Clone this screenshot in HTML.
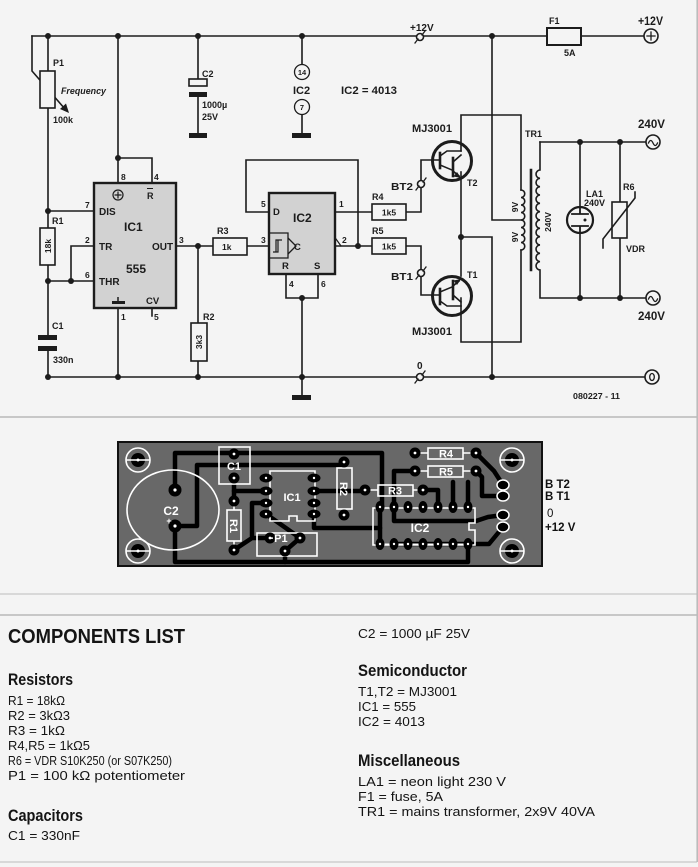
<!DOCTYPE html>
<html><head><meta charset="utf-8"><style>
html,body{margin:0;padding:0;background:#f4f4f4;}
svg{display:block;}
</style></head><body>
<svg width="698" height="867" viewBox="0 0 698 867" xmlns="http://www.w3.org/2000/svg" font-family="'Liberation Sans', Arial, sans-serif">
<rect width="698" height="867" fill="#f4f4f4"/>

<!-- ============ SCHEMATIC ============ -->
<g stroke="#1c1c1c" stroke-width="1.6" fill="none" stroke-linecap="square">
  <!-- rails -->
  <path d="M32,36 H547 M581,36 H644"/>
  <path d="M48,377 H645"/>
  <!-- P1 wiper -->
  <path d="M32,36 V71 L65,109"/>
  <!-- left column -->
  <path d="M48,36 V71 M48,108 V228 M48,265 V335 M48,351 V377"/>
  <rect x="40" y="71" width="15" height="37" fill="#f4f4f4"/>
  <rect x="40" y="228" width="15" height="37" fill="#f4f4f4"/>
  <path d="M48,211 H94 M71,246 H94 M71,246 V281 M48,281 H94"/>
  <!-- IC1 supply -->
  <path d="M118,36 V183 M118,158 H152 V183 M118,308 V377 M152,308 V316"/>
  <!-- OUT -->
  <path d="M176,246 H213 M247,246 H269 M198,246 V323 M198,361 V377"/>
  <rect x="213" y="238" width="34" height="17" fill="#f4f4f4"/>
  <rect x="191" y="323" width="16" height="38" fill="#f4f4f4"/>
  <!-- C2 -->
  <path d="M198,36 V79 M198,97 V133"/>
  <rect x="189" y="79" width="18" height="7" fill="#f4f4f4"/>
  <!-- IC2 supply -->
  <path d="M302,36 V64.5 M302,114.5 V133"/>
  <circle cx="302" cy="72" r="7.5" fill="#f4f4f4" stroke-width="1.3"/>
  <circle cx="302" cy="107" r="7.5" fill="#f4f4f4" stroke-width="1.3"/>
  <!-- IC2 wiring -->
  <path d="M269,212 H246 V160 H358 V246"/>
  <path d="M335,212 H372 M406,212 H421 V160 H440"/>
  <path d="M335,246 H372 M406,246 H421 V295 H440"/>
  <rect x="372" y="204" width="34" height="16" fill="#f4f4f4"/>
  <rect x="372" y="238" width="34" height="16" fill="#f4f4f4"/>
  <path d="M286,274 V298 H318 V274 M302,298 V395"/>
  <path d="M336,239 L341,246" stroke-width="1.2"/>
  <!-- transistors wiring -->
  <path d="M461,151 V115 H521 V190"/>
  <path d="M461,172 V276"/>
  <path d="M461,298 V342 H521 V250"/>
  <path d="M461,237 H492 V377"/>
  <path d="M492,36 V220 H521"/>
  <!-- transformer -->
  <path d="M521,190 a3.75,3.75 0 0 1 0,7.5 a3.75,3.75 0 0 1 0,7.5 a3.75,3.75 0 0 1 0,7.5 a3.75,3.75 0 0 1 0,7.5 a3.75,3.75 0 0 1 0,7.5 a3.75,3.75 0 0 1 0,7.5 a3.75,3.75 0 0 1 0,7.5 a3.75,3.75 0 0 1 0,7.5"/>
  <path d="M531,170 V270" stroke-width="2.6"/>
  <path d="M540,142 V170 a4.17,4.17 0 0 0 0,8.33 a4.17,4.17 0 0 0 0,8.33 a4.17,4.17 0 0 0 0,8.33 a4.17,4.17 0 0 0 0,8.33 a4.17,4.17 0 0 0 0,8.33 a4.17,4.17 0 0 0 0,8.33 a4.17,4.17 0 0 0 0,8.33 a4.17,4.17 0 0 0 0,8.33 a4.17,4.17 0 0 0 0,8.33 a4.17,4.17 0 0 0 0,8.33 a4.17,4.17 0 0 0 0,8.33 a4.17,4.17 0 0 0 0,8.33 V298 H646"/>
  <path d="M540,142 H646"/>
  <!-- LA1 -->
  <path d="M580,142 V207 M580,233 V298"/>
  <circle cx="580" cy="220" r="13" stroke-width="2.2" fill="#f4f4f4"/>
  <path d="M580,207 V214 M572,214 H588 M572,226 H588 M580,226 V233" stroke-width="1.8"/>
  <!-- R6 VDR -->
  <path d="M620,142 V202 M620,238 V298"/>
  <rect x="612" y="202" width="15" height="36" fill="#f4f4f4"/>
  <path d="M603,248 V239 L635,198 V192"/>
  <!-- fuse -->
  <rect x="547" y="28" width="34" height="17" fill="#f4f4f4" stroke-width="2"/>
  <!-- big terminals -->
  <circle cx="651" cy="36" r="7" fill="#f4f4f4"/>
  <path d="M647,36 H655 M651,32 V40" stroke-width="1.3"/>
  <circle cx="653" cy="142" r="7" fill="#f4f4f4"/>
  <path d="M648.5,143 q2.2,-5 4.5,0 t4.5,0" stroke-width="1.3"/>
  <circle cx="653" cy="298" r="7" fill="#f4f4f4"/>
  <path d="M648.5,299 q2.2,-5 4.5,0 t4.5,0" stroke-width="1.3"/>
  <circle cx="652" cy="377" r="7" fill="#f4f4f4"/>
  <ellipse cx="652" cy="377" rx="2.3" ry="3.5" stroke-width="1.3"/>
  <!-- small terminals -->
  <circle cx="420" cy="37" r="3.5" fill="#f4f4f4"/>
  <path d="M415,43 L418,39 M422,35 L425,31" stroke-width="1.3"/>
  <circle cx="421" cy="184" r="3.5" fill="#f4f4f4"/>
  <path d="M416,190 L419,186 M423,182 L426,178" stroke-width="1.3"/>
  <circle cx="421" cy="273" r="3.5" fill="#f4f4f4"/>
  <path d="M416,279 L419,275 M423,271 L426,267" stroke-width="1.3"/>
  <circle cx="420" cy="377" r="3.5" fill="#f4f4f4"/>
  <path d="M415,383 L418,379 M422,375 L425,371" stroke-width="1.3"/>
  <!-- transistor T2 -->
  <circle cx="452" cy="161" r="19.5" stroke-width="3"/>
  <path d="M440,153 V168" stroke-width="2.6"/>
  <path d="M440,156 L447,151 H461 M440,165 L452,170"/>
  <path d="M453,158 V176" stroke-width="2.6"/>
  <path d="M453,162 L461,155 M453,171 L459,176"/>
  <!-- transistor T1 -->
  <circle cx="452" cy="296" r="19.5" stroke-width="3"/>
  <path d="M440,289 V304" stroke-width="2.6"/>
  <path d="M440,301 L447,306 H461 M440,292 L452,287"/>
  <path d="M453,281 V299" stroke-width="2.6"/>
  <path d="M453,295 L461,302 M453,286 L459,281"/>
  <!-- IC1 ⊕ -->
  <circle cx="118" cy="195" r="5" stroke-width="1.2"/>
  <path d="M114.5,195 H121.5 M118,191.5 V198.5" stroke-width="1.2"/>
  <!-- schmitt -->
  <path d="M269,233 H288 V258 H269" stroke-width="1.3"/>
  <path d="M288,238 L296,246 L288,254" stroke-width="1.3"/>
  <path d="M273,252 H278 V240 M276,252 V240 H282" stroke-width="1.2"/>
  <path d="M152,196 v0" />
</g>
<!-- ICs -->
<rect x="94" y="183" width="82" height="125" fill="#d2d2d2" stroke="#1c1c1c" stroke-width="2.4"/>
<rect x="269" y="193" width="66" height="81" fill="#d2d2d2" stroke="#1c1c1c" stroke-width="2.4"/>
<g stroke="#1c1c1c" fill="none">
  <circle cx="118" cy="195" r="5" stroke-width="1.2"/>
  <path d="M114.5,195 H121.5 M118,191.5 V198.5" stroke-width="1.2"/>
  <path d="M269,233 H288 V258 H269" stroke-width="1.3"/>
  <path d="M288,238 L296,246 L288,254" stroke-width="1.3"/>
  <path d="M273,252 H278 V240 M276,252 V240 H282" stroke-width="1.2"/>
  <path d="M118,297 V301" stroke-width="1.5"/>
</g>
<g fill="#1c1c1c">
  <rect x="112" y="301" width="13" height="3"/>
  <rect x="38" y="335" width="19" height="5"/>
  <rect x="38" y="346" width="19" height="5"/>
  <rect x="189" y="92" width="18" height="5"/>
  <rect x="189" y="133" width="18" height="5"/>
  <rect x="292" y="133" width="19" height="5"/>
  <rect x="292" y="395" width="19" height="5"/>
  <polygon points="69,113 60,109 66,103.5"/>
  <polygon points="461,178 453.5,176.5 457,172"/>
  <polygon points="461,279 457,285 453.5,280.5"/>
  <circle cx="48" cy="36" r="3"/><circle cx="118" cy="36" r="3"/><circle cx="198" cy="36" r="3"/>
  <circle cx="302" cy="36" r="3"/><circle cx="492" cy="36" r="3"/>
  <circle cx="48" cy="211" r="3"/><circle cx="48" cy="281" r="3"/><circle cx="71" cy="281" r="3"/>
  <circle cx="118" cy="158" r="3"/><circle cx="198" cy="246" r="3"/><circle cx="358" cy="246" r="3"/>
  <circle cx="302" cy="298" r="3"/><circle cx="461" cy="237" r="3"/>
  <circle cx="580" cy="142" r="3"/><circle cx="620" cy="142" r="3"/>
  <circle cx="580" cy="298" r="3"/><circle cx="620" cy="298" r="3"/>
  <circle cx="48" cy="377" r="3"/><circle cx="118" cy="377" r="3"/><circle cx="198" cy="377" r="3"/>
  <circle cx="302" cy="377" r="3"/><circle cx="492" cy="377" r="3"/>
  <circle cx="585" cy="220" r="1.5"/>
</g>

<!-- schematic text -->
<g fill="#1c1c1c" font-weight="bold" font-size="9">
  <text x="53" y="66">P1</text>
  <text x="61" y="94" font-style="italic" textLength="45" lengthAdjust="spacingAndGlyphs">Frequency</text>
  <text x="53" y="123">100k</text>
  <text x="52" y="224">R1</text>
  <text x="52" y="329">C1</text>
  <text x="53" y="363">330n</text>
  <text x="202" y="77">C2</text>
  <text x="202" y="108">1000µ</text>
  <text x="202" y="120">25V</text>
  <text x="121" y="180" font-size="8.5">8</text>
  <text x="154" y="180" font-size="8.5">4</text>
  <text x="147" y="199" font-size="9">R</text>
  <path d="M147,188.5 H153" stroke="#1c1c1c" stroke-width="1"/>
  <text x="85" y="208" font-size="8.5">7</text>
  <text x="85" y="243" font-size="8.5">2</text>
  <text x="85" y="278" font-size="8.5">6</text>
  <text x="99" y="215" font-size="10">DIS</text>
  <text x="99" y="250" font-size="10">TR</text>
  <text x="99" y="285" font-size="10">THR</text>
  <text x="124" y="231" font-size="12">IC1</text>
  <text x="126" y="273" font-size="12">555</text>
  <text x="152" y="250" font-size="10">OUT</text>
  <text x="179" y="243" font-size="8.5">3</text>
  <text x="146" y="304" font-size="9.5">CV</text>
  <text x="121" y="320" font-size="8.5">1</text>
  <text x="154" y="320" font-size="8.5">5</text>
  <text x="217" y="234">R3</text>
  <text x="222" y="250" font-size="8.5">1k</text>
  <text x="203" y="320">R2</text>
  <text transform="translate(202,342) rotate(-90)" text-anchor="middle" font-size="8.5">3k3</text>
  <text transform="translate(51,246) rotate(-90)" text-anchor="middle" font-size="8.5">18k</text>
  <text x="302" y="75" text-anchor="middle" font-size="7.5">14</text>
  <text x="302" y="110" text-anchor="middle" font-size="7.5">7</text>
  <text x="293" y="94" font-size="11">IC2</text>
  <text x="341" y="94" font-size="11" textLength="56" lengthAdjust="spacingAndGlyphs">IC2 = 4013</text>
  <text x="410" y="31" font-size="10">+12V</text>
  <text x="261" y="207" font-size="8.5">5</text>
  <text x="273" y="215" font-size="9.5">D</text>
  <text x="293" y="222" font-size="12">IC2</text>
  <text x="261" y="243" font-size="8.5">3</text>
  <text x="294" y="250" font-size="9.5">C</text>
  <text x="282" y="269" font-size="9.5">R</text>
  <text x="314" y="269" font-size="9.5">S</text>
  <text x="289" y="287" font-size="8.5">4</text>
  <text x="321" y="287" font-size="8.5">6</text>
  <text x="339" y="207" font-size="8.5">1</text>
  <text x="342" y="243" font-size="8.5">2</text>
  <text x="372" y="200">R4</text>
  <text x="372" y="234">R5</text>
  <text x="389" y="215.5" text-anchor="middle" font-size="8.5">1k5</text>
  <text x="389" y="249.5" text-anchor="middle" font-size="8.5">1k5</text>
  <text x="391" y="190" font-size="10" textLength="22" lengthAdjust="spacingAndGlyphs">BT2</text>
  <text x="391" y="280" font-size="10" textLength="22" lengthAdjust="spacingAndGlyphs">BT1</text>
  <text x="412" y="132" font-size="11" textLength="40" lengthAdjust="spacingAndGlyphs">MJ3001</text>
  <text x="412" y="335" font-size="11" textLength="40" lengthAdjust="spacingAndGlyphs">MJ3001</text>
  <text x="467" y="186" font-size="9">T2</text>
  <text x="467" y="278" font-size="9">T1</text>
  <text x="417" y="369" font-size="10">0</text>
  <text x="549" y="24">F1</text>
  <text x="564" y="56">5A</text>
  <text x="638" y="25" font-size="11.5" textLength="25" lengthAdjust="spacingAndGlyphs">+12V</text>
  <text x="638" y="128" font-size="12" textLength="27" lengthAdjust="spacingAndGlyphs">240V</text>
  <text x="638" y="320" font-size="12" textLength="27" lengthAdjust="spacingAndGlyphs">240V</text>
  <text x="525" y="137">TR1</text>
  <text transform="translate(518,207) rotate(-90)" text-anchor="middle" font-size="8.5">9V</text>
  <text transform="translate(518,237) rotate(-90)" text-anchor="middle" font-size="8.5">9V</text>
  <text transform="translate(551,222) rotate(-90)" text-anchor="middle" font-size="8.5">240V</text>
  <text x="586" y="197">LA1</text>
  <text x="584" y="206">240V</text>
  <text x="623" y="190">R6</text>
  <text x="626" y="252">VDR</text>
  <text x="573" y="399" font-size="8.5" textLength="47" lengthAdjust="spacingAndGlyphs">080227 - 11</text>
</g>

<!-- separators -->
<g stroke="#b8b8b8" stroke-width="1.5">
  <path d="M0,417 H697"/>
  <path d="M0,594 H697" stroke="#cfcfcf"/>
  <path d="M0,615 H697"/>
  <path d="M0,862 H697" stroke="#cfcfcf"/>
  <path d="M697.2,0 V862"/>
</g>

<!-- ============ PCB ============ -->
<rect x="118" y="442" width="424" height="124" fill="#686868" stroke="#111" stroke-width="2"/>
<g stroke="#000" stroke-width="4.5" fill="none" stroke-linejoin="round" stroke-linecap="round">
  <path d="M175,490 V453 H382 V507"/>
  <path d="M175,526 H197 V465 H344"/>
  <path d="M175,526 V562 H468 V544"/>
  <path d="M234,478 V501"/>
  <path d="M234,491 H266"/>
  <path d="M314,491 H365"/>
  <path d="M314,514 V528 H380"/>
  <path d="M234,550 L252,538 V503 H266 M252,538 H270"/>
  <path d="M266,514 L300,538 L285,551 V562"/>
  <path d="M423,490 H438 V507"/>
  <path d="M415,471 H394 V507"/>
  <path d="M453,507 V482 M468,507 V482"/>
  <path d="M476,453 L494,471 L503,485"/>
  <path d="M476,471 L482,477 V496 H503"/>
  <path d="M503,515 L488,517 L476,521 H394 V507"/>
  <path d="M503,527 L489,544 H468"/>
  <path d="M380,507 V544"/>
  <path d="M394,544 H468"/>
</g>
<!-- silkscreen -->
<g stroke="#fff" stroke-width="1.6" fill="none">
  <ellipse cx="173" cy="510" rx="46" ry="40"/>
  <rect x="219" y="447" width="31" height="37"/>
  <rect x="227" y="510" width="14" height="31"/>
  <path d="M234,501 V510 M234,541 V550"/>
  <path d="M270,471 H315 V521 H297 V516 H289 V521 H270 Z"/>
  <rect x="257" y="533" width="60" height="23"/>
  <rect x="337" y="468" width="15" height="41"/>
  <path d="M344,462 V468 M344,509 V515"/>
  <rect x="378" y="485" width="35" height="11"/>
  <path d="M365,490 H378 M413,490 H423"/>
  <rect x="428" y="448" width="35" height="11"/>
  <path d="M415,453 H428 M463,453 H476"/>
  <rect x="428" y="466" width="35" height="11"/>
  <path d="M415,471 H428 M463,471 H476"/>
  <path d="M373,508 H475 V523 H469 V530 H475 V545 H373 Z"/>
  <path d="M380,508 H468 M380,544 H468" stroke-width="1"/>
</g>
<!-- mounting holes -->
<g>
  <g transform="translate(138,460)"><circle r="12" fill="none" stroke="#fff" stroke-width="1.6"/><circle r="7" fill="#000"/><path d="M-12,0 H12" stroke="#fff" stroke-width="1.4"/></g>
  <g transform="translate(138,551)"><circle r="12" fill="none" stroke="#fff" stroke-width="1.6"/><circle r="7" fill="#000"/><path d="M-12,0 H12" stroke="#fff" stroke-width="1.4"/></g>
  <g transform="translate(512,460)"><circle r="12" fill="none" stroke="#fff" stroke-width="1.6"/><circle r="7" fill="#000"/><path d="M-12,0 H12" stroke="#fff" stroke-width="1.4"/></g>
  <g transform="translate(512,551)"><circle r="12" fill="none" stroke="#fff" stroke-width="1.6"/><circle r="7" fill="#000"/><path d="M-12,0 H12" stroke="#fff" stroke-width="1.4"/></g>
</g>
<!-- pads -->
<g fill="#000">
  <circle cx="175" cy="490" r="6.5"/><circle cx="175" cy="526" r="6.5"/>
  <circle cx="234" cy="454" r="5.5"/><circle cx="234" cy="478" r="5.5"/>
  <circle cx="234" cy="501" r="5.5"/><circle cx="234" cy="550" r="5.5"/>
  <ellipse cx="266" cy="478" rx="6.5" ry="4.5"/><ellipse cx="266" cy="491" rx="6.5" ry="4.5"/>
  <ellipse cx="266" cy="503" rx="6.5" ry="4.5"/><ellipse cx="266" cy="514" rx="6.5" ry="4.5"/>
  <ellipse cx="314" cy="478" rx="6.5" ry="4.5"/><ellipse cx="314" cy="491" rx="6.5" ry="4.5"/>
  <ellipse cx="314" cy="503" rx="6.5" ry="4.5"/><ellipse cx="314" cy="514" rx="6.5" ry="4.5"/>
  <circle cx="270" cy="538" r="5.5"/><circle cx="300" cy="538" r="5.5"/><circle cx="285" cy="551" r="5.5"/>
  <circle cx="344" cy="462" r="5.5"/><circle cx="344" cy="515" r="5.5"/>
  <circle cx="365" cy="490" r="5.5"/><circle cx="423" cy="490" r="5.5"/>
  <circle cx="415" cy="453" r="5.5"/><circle cx="476" cy="453" r="5.5"/>
  <circle cx="415" cy="471" r="5.5"/><circle cx="476" cy="471" r="5.5"/>
  <ellipse cx="380" cy="507" rx="4.5" ry="6"/><ellipse cx="394" cy="507" rx="4.5" ry="6"/>
  <ellipse cx="408" cy="507" rx="4.5" ry="6"/><ellipse cx="423" cy="507" rx="4.5" ry="6"/>
  <ellipse cx="438" cy="507" rx="4.5" ry="6"/><ellipse cx="453" cy="507" rx="4.5" ry="6"/>
  <ellipse cx="468" cy="507" rx="4.5" ry="6"/>
  <ellipse cx="380" cy="544" rx="4.5" ry="6"/><ellipse cx="394" cy="544" rx="4.5" ry="6"/>
  <ellipse cx="408" cy="544" rx="4.5" ry="6"/><ellipse cx="423" cy="544" rx="4.5" ry="6"/>
  <ellipse cx="438" cy="544" rx="4.5" ry="6"/><ellipse cx="453" cy="544" rx="4.5" ry="6"/>
  <ellipse cx="468" cy="544" rx="4.5" ry="6"/>
</g>
<g fill="#000" stroke="#fff" stroke-width="1.5">
  <ellipse cx="503" cy="485" rx="6" ry="5"/><ellipse cx="503" cy="496" rx="6" ry="5"/>
  <ellipse cx="503" cy="515" rx="6" ry="5"/><ellipse cx="503" cy="527" rx="6" ry="5"/>
</g>
<g fill="#fff">
  <circle cx="175" cy="490" r="1.6"/><circle cx="175" cy="526" r="1.6"/>
  <circle cx="234" cy="454" r="1.4"/><circle cx="234" cy="478" r="1.4"/>
  <circle cx="234" cy="501" r="1.4"/><circle cx="234" cy="550" r="1.4"/>
  <circle cx="266" cy="478" r="1.2"/><circle cx="266" cy="491" r="1.2"/><circle cx="266" cy="503" r="1.2"/><circle cx="266" cy="514" r="1.2"/>
  <circle cx="314" cy="478" r="1.2"/><circle cx="314" cy="491" r="1.2"/><circle cx="314" cy="503" r="1.2"/><circle cx="314" cy="514" r="1.2"/>
  <circle cx="270" cy="538" r="1.4"/><circle cx="300" cy="538" r="1.4"/><circle cx="285" cy="551" r="1.4"/>
  <circle cx="344" cy="462" r="1.4"/><circle cx="344" cy="515" r="1.4"/>
  <circle cx="365" cy="490" r="1.4"/><circle cx="423" cy="490" r="1.4"/>
  <circle cx="415" cy="453" r="1.4"/><circle cx="476" cy="453" r="1.4"/>
  <circle cx="415" cy="471" r="1.4"/><circle cx="476" cy="471" r="1.4"/>
  <circle cx="380" cy="507" r="1.2"/><circle cx="394" cy="507" r="1.2"/><circle cx="408" cy="507" r="1.2"/><circle cx="423" cy="507" r="1.2"/><circle cx="438" cy="507" r="1.2"/><circle cx="453" cy="507" r="1.2"/><circle cx="468" cy="507" r="1.2"/>
  <circle cx="380" cy="544" r="1.2"/><circle cx="394" cy="544" r="1.2"/><circle cx="408" cy="544" r="1.2"/><circle cx="423" cy="544" r="1.2"/><circle cx="438" cy="544" r="1.2"/><circle cx="453" cy="544" r="1.2"/><circle cx="468" cy="544" r="1.2"/>
  <circle cx="138" cy="460" r="1.5"/><circle cx="138" cy="551" r="1.5"/><circle cx="512" cy="460" r="1.5"/><circle cx="512" cy="551" r="1.5"/>
</g>
<!-- PCB labels -->
<g fill="#fff" font-weight="bold" font-size="11" text-anchor="middle">
  <text x="171" y="515" font-size="12">C2</text>
  <text x="169" y="524" font-size="9">+</text>
  <text x="234" y="470">C1</text>
  <text x="292" y="501">IC1</text>
  <text transform="translate(230,526) rotate(90)" >R1</text>
  <text x="279" y="542">·P1</text>
  <text transform="translate(340,489) rotate(90)">R2</text>
  <text x="395" y="494.5">R3</text>
  <text x="446" y="457.5">R4</text>
  <text x="446" y="475.5">R5</text>
  <text x="420" y="532" font-size="12">IC2</text>
</g>
<g fill="#111" font-weight="bold" font-size="11.5">
  <text x="545" y="488">B T2</text>
  <text x="545" y="500">B T1</text>
  <text x="547" y="517" font-weight="normal">0</text>
  <text x="545" y="531">+12 V</text>
</g>

<!-- ============ COMPONENTS LIST ============ -->
<g fill="#141414">
  <text x="8" y="643" font-size="20" font-weight="bold" textLength="177" lengthAdjust="spacingAndGlyphs">COMPONENTS LIST</text>
  <text x="8" y="685" font-size="16.5" font-weight="bold" textLength="65" lengthAdjust="spacingAndGlyphs">Resistors</text>
  <g font-size="12.5">
    <text x="8" y="705" textLength="57" lengthAdjust="spacingAndGlyphs">R1 = 18kΩ</text>
    <text x="8" y="720" textLength="62" lengthAdjust="spacingAndGlyphs">R2 = 3kΩ3</text>
    <text x="8" y="735" textLength="57" lengthAdjust="spacingAndGlyphs">R3 = 1kΩ</text>
    <text x="8" y="750" textLength="82" lengthAdjust="spacingAndGlyphs">R4,R5 = 1kΩ5</text>
    <text x="8" y="765" textLength="164" lengthAdjust="spacingAndGlyphs">R6 = VDR S10K250 (or S07K250)</text>
    <text x="8" y="780" textLength="177" lengthAdjust="spacingAndGlyphs">P1 = 100 kΩ potentiometer</text>
  </g>
  <text x="8" y="821" font-size="16.5" font-weight="bold" textLength="75" lengthAdjust="spacingAndGlyphs">Capacitors</text>
  <text x="8" y="840" font-size="12.5" textLength="72" lengthAdjust="spacingAndGlyphs">C1 = 330nF</text>

  <text x="358" y="638" font-size="12.5" textLength="112" lengthAdjust="spacingAndGlyphs">C2 = 1000 µF 25V</text>
  <text x="358" y="676" font-size="16.5" font-weight="bold" textLength="109" lengthAdjust="spacingAndGlyphs">Semiconductor</text>
  <g font-size="12.5">
    <text x="358" y="696" textLength="99" lengthAdjust="spacingAndGlyphs">T1,T2 = MJ3001</text>
    <text x="358" y="711" textLength="58" lengthAdjust="spacingAndGlyphs">IC1 = 555</text>
    <text x="358" y="726" textLength="67" lengthAdjust="spacingAndGlyphs">IC2 = 4013</text>
  </g>
  <text x="358" y="766" font-size="16.5" font-weight="bold" textLength="102" lengthAdjust="spacingAndGlyphs">Miscellaneous</text>
  <g font-size="12.5">
    <text x="358" y="786" textLength="148" lengthAdjust="spacingAndGlyphs">LA1 = neon light 230 V</text>
    <text x="358" y="801" textLength="85" lengthAdjust="spacingAndGlyphs">F1 = fuse, 5A</text>
    <text x="358" y="816" textLength="237" lengthAdjust="spacingAndGlyphs">TR1 = mains transformer, 2x9V 40VA</text>
  </g>
</g>
</svg>
</body></html>
